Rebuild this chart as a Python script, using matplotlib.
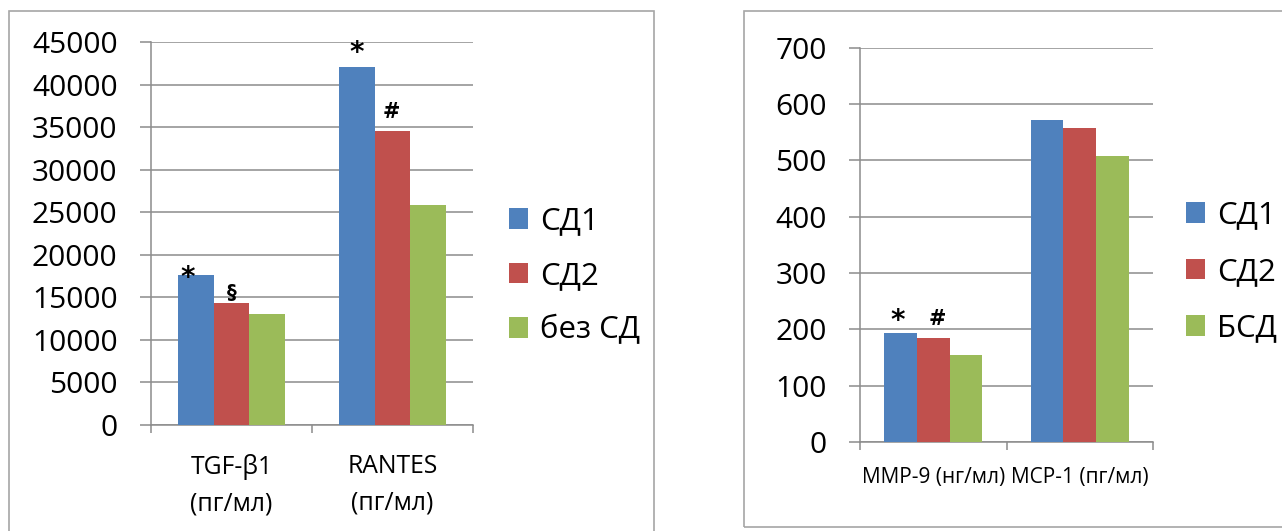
import matplotlib
matplotlib.use('Agg')
import matplotlib.pyplot as plt
from matplotlib.patches import Rectangle
import numpy as np

plt.rcParams['font.family'] = ['Open Sans', 'DejaVu Sans']

W, H = 1282, 531
series_colors = ['#4F81BD', '#C0504D', '#9BBB59']
grid_color = '#8c8c8c'
frame_color = '#a6a6a6'

# Left panel: cytokines
left_categories = ['TGF-β1\n(пг/мл)', 'RANTES\n(пг/мл)']
left_series = ['СД1', 'СД2', 'без СД']
left_sd1 = [17600, 42100]
left_sd2 = [14300, 34600]
left_nosd = [13100, 25800]
left_yticks = [0, 5000, 10000, 15000, 20000, 25000, 30000, 35000, 40000, 45000]

# Right panel: MMP-9 / MCP-1
right_categories = ['MMP-9 (нг/мл)', 'MCP-1 (пг/мл)']
right_series = ['СД1', 'СД2', 'БСД']
right_sd1 = [193, 572]
right_sd2 = [185, 557]
right_bsd = [154, 507]
right_yticks = [0, 100, 200, 300, 400, 500, 600, 700]

# Significance marks: (series index, category index, symbol)
left_marks = [(0, 0, '*'), (1, 0, '§'), (0, 1, '*'), (1, 1, '#')]
right_marks = [(0, 0, '*'), (1, 0, '#')]
# offsets of the mark centres from the bar top centre, in pixels
left_mark_offsets = [(-8, -3), (0, 11), (0, 14), (-1, 19)]
right_mark_offsets = [(-3, 12), (4, 19)]
mark_sizes = {'*': 20, '#': 15, '§': 14}

fig = plt.figure(figsize=(W / 100, H / 100), dpi=100)
fig.patch.set_facecolor('white')


def px_rect(x0, y0, x1, y1):
    return [x0 / W, 1 - y1 / H, (x1 - x0) / W, (y1 - y0) / H]


def draw_panel(rect, categories, series_names, values, yticks, marks, offsets,
               xlabel_size, xlabel_pad, legend_xy, legend_spacing):
    ax = fig.add_axes(px_rect(*rect))
    x = np.arange(len(categories))
    width = 0.67 / len(values)
    containers = []
    for i, vals in enumerate(values):
        bc = ax.bar(x + (i - 1) * width, vals, width, color=series_colors[i],
                    zorder=3, linewidth=0)
        containers.append(bc)

    ax.set_xlim(-0.5, len(categories) - 0.5)
    ax.set_ylim(yticks[0], yticks[-1])
    ax.set_yticks(yticks)
    ax.yaxis.grid(True, color=grid_color, linewidth=1.1)
    ax.set_axisbelow(True)
    for side in ('top', 'right'):
        ax.spines[side].set_visible(False)
    for side in ('left', 'bottom'):
        ax.spines[side].set_color(grid_color)
        ax.spines[side].set_linewidth(1.1)
    ax.tick_params(axis='y', length=7.6, width=1.1, color=grid_color,
                   pad=16.5, labelsize=21.5, labelcolor='black')

    ax.set_xticks(np.arange(len(categories) + 1) - 0.5)
    ax.set_xticklabels([])
    ax.tick_params(axis='x', which='major', length=5.8, width=1.1,
                   color=grid_color)
    ax.set_xticks(x, minor=True)
    ax.set_xticklabels(categories, minor=True, fontsize=xlabel_size,
                       linespacing=1.6, multialignment='center')
    ax.tick_params(axis='x', which='minor', length=0, pad=xlabel_pad)

    for (si, ci, sym), (dx, dy) in zip(marks, offsets):
        ax.annotate(sym, (x[ci] + (si - 1) * width, values[si][ci]),
                    xytext=(dx * 0.72, dy * 0.72), textcoords='offset points',
                    ha='center', va='center',
                    fontsize=mark_sizes[sym], fontweight='bold',
                    family=['DejaVu Sans'], zorder=5)

    ax.legend(containers, series_names, loc='center left',
              bbox_to_anchor=(legend_xy[0] / W, 1 - legend_xy[1] / H),
              bbox_transform=fig.transFigure, frameon=False, fontsize=22.5,
              handlelength=0.62, handleheight=0.62, handletextpad=0.38,
              labelspacing=legend_spacing, borderpad=0, borderaxespad=0)
    return ax


draw_panel((151, 42, 473, 425), left_categories, left_series,
           [left_sd1, left_sd2, left_nosd], left_yticks,
           left_marks, left_mark_offsets, 17.8, 21, (509, 276), 0.78)
draw_panel((860, 47.7, 1153, 442), right_categories, right_series,
           [right_sd1, right_sd2, right_bsd], right_yticks,
           right_marks, right_mark_offsets, 15, 18, (1186, 272), 0.85)

# Chart area frames
fig.add_artist(Rectangle((8.5 / W, 1 - 600 / H), (654 - 8.5) / W, (600 - 11) / H,
                         transform=fig.transFigure, fill=False,
                         edgecolor=frame_color, linewidth=1.2))
fig.add_artist(Rectangle((744 / W, 1 - 527 / H), (1400 - 744) / W, (527 - 11) / H,
                         transform=fig.transFigure, fill=False,
                         edgecolor=frame_color, linewidth=1.2))

fig.savefig('out.png', dpi=100, facecolor='white')
